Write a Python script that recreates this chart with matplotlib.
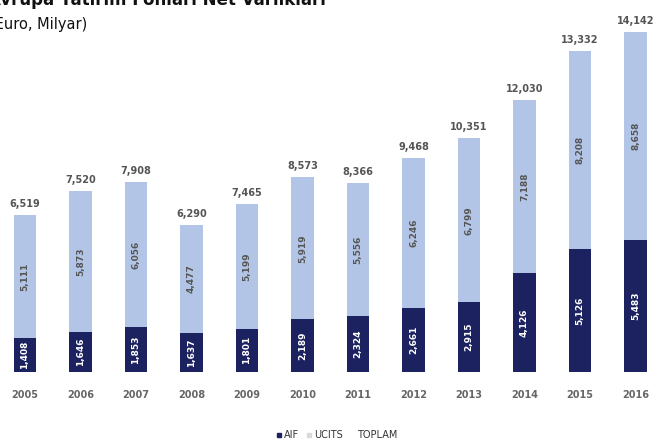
import matplotlib
matplotlib.use("Agg")
import matplotlib.pyplot as plt
import numpy as np

# Avrupa yatirim fonlari net varliklari (Euro, Milyar)
years = ['2005', '2006', '2007', '2008', '2009', '2010',
         '2011', '2012', '2013', '2014', '2015', '2016']
aif = [1408, 1646, 1853, 1637, 1801, 2189, 2324, 2661, 2915, 4126, 5126, 5483]
ucits = [5111, 5873, 6056, 4477, 5199, 5919, 5556, 6246, 6799, 7188, 8208, 8658]
toplam = [6519, 7520, 7908, 6290, 7465, 8573, 8366, 9468, 10351, 12030, 13332, 14142]

dark = '#1c2260'
light = '#b3c5e6'
grey = '#555555'

fig = plt.figure(figsize=(6.65, 4.45), dpi=100)
ax = fig.add_axes([0, 0.164, 1, 0.836])

x = np.arange(len(years))
w = 0.4
ax.bar(x, aif, w, color=dark, label='AIF')
ax.bar(x, ucits, w, bottom=aif, color=light, label='UCITS')

def fmt(v):
    return '{:,}'.format(v)

for i in range(len(years)):
    ax.text(x[i], aif[i] / 2, fmt(aif[i]), rotation=90, ha='center', va='center',
            color='white', fontsize=6.5, fontweight='bold')
    ax.text(x[i], aif[i] + ucits[i] / 2, fmt(ucits[i]), rotation=90, ha='center',
            va='center', color=grey, fontsize=6.5, fontweight='bold')
    ax.text(x[i], aif[i] + ucits[i] + 250, fmt(toplam[i]), ha='center', va='bottom',
            color=grey, fontsize=7, fontweight='bold')

ax.set_xlim(-0.45, 11.53)
ax.set_ylim(0, 15470)
ax.set_xticks(x)
ax.set_xticklabels(years, fontsize=7, color='#666666', fontweight='bold')
ax.tick_params(axis='x', length=0, pad=13)
ax.set_yticks([])
for s in ax.spines.values():
    s.set_visible(False)

# legend (TOPLAM has no visible patch)
h1 = plt.Line2D([], [], marker='s', linestyle='', color=dark, markersize=3.5)
h2 = plt.Line2D([], [], marker='s', linestyle='', color='#d9d9d9', markersize=3.5)
h3 = plt.Line2D([], [], marker='s', linestyle='', color='white', markersize=3.5)
fig.legend([h1, h2, h3], ['AIF', 'UCITS', 'TOPLAM'], loc='center',
           bbox_to_anchor=(0.505, 0.022), ncol=3, frameon=False, fontsize=7,
           handletextpad=0.0, columnspacing=0.5, handlelength=1.0,
           labelcolor='#333333')

fig.text(-0.018, 1.0, 'Avrupa Yatırım Fonları Net Varlıkları', fontsize=12,
         fontweight='bold', color='#111111', ha='left', va='center')
fig.text(-0.016, 0.945, '(Euro, Milyar)', fontsize=10.5, fontweight='normal',
         color='#111111', ha='left', va='center')

fig.savefig('out.png', dpi=100)
